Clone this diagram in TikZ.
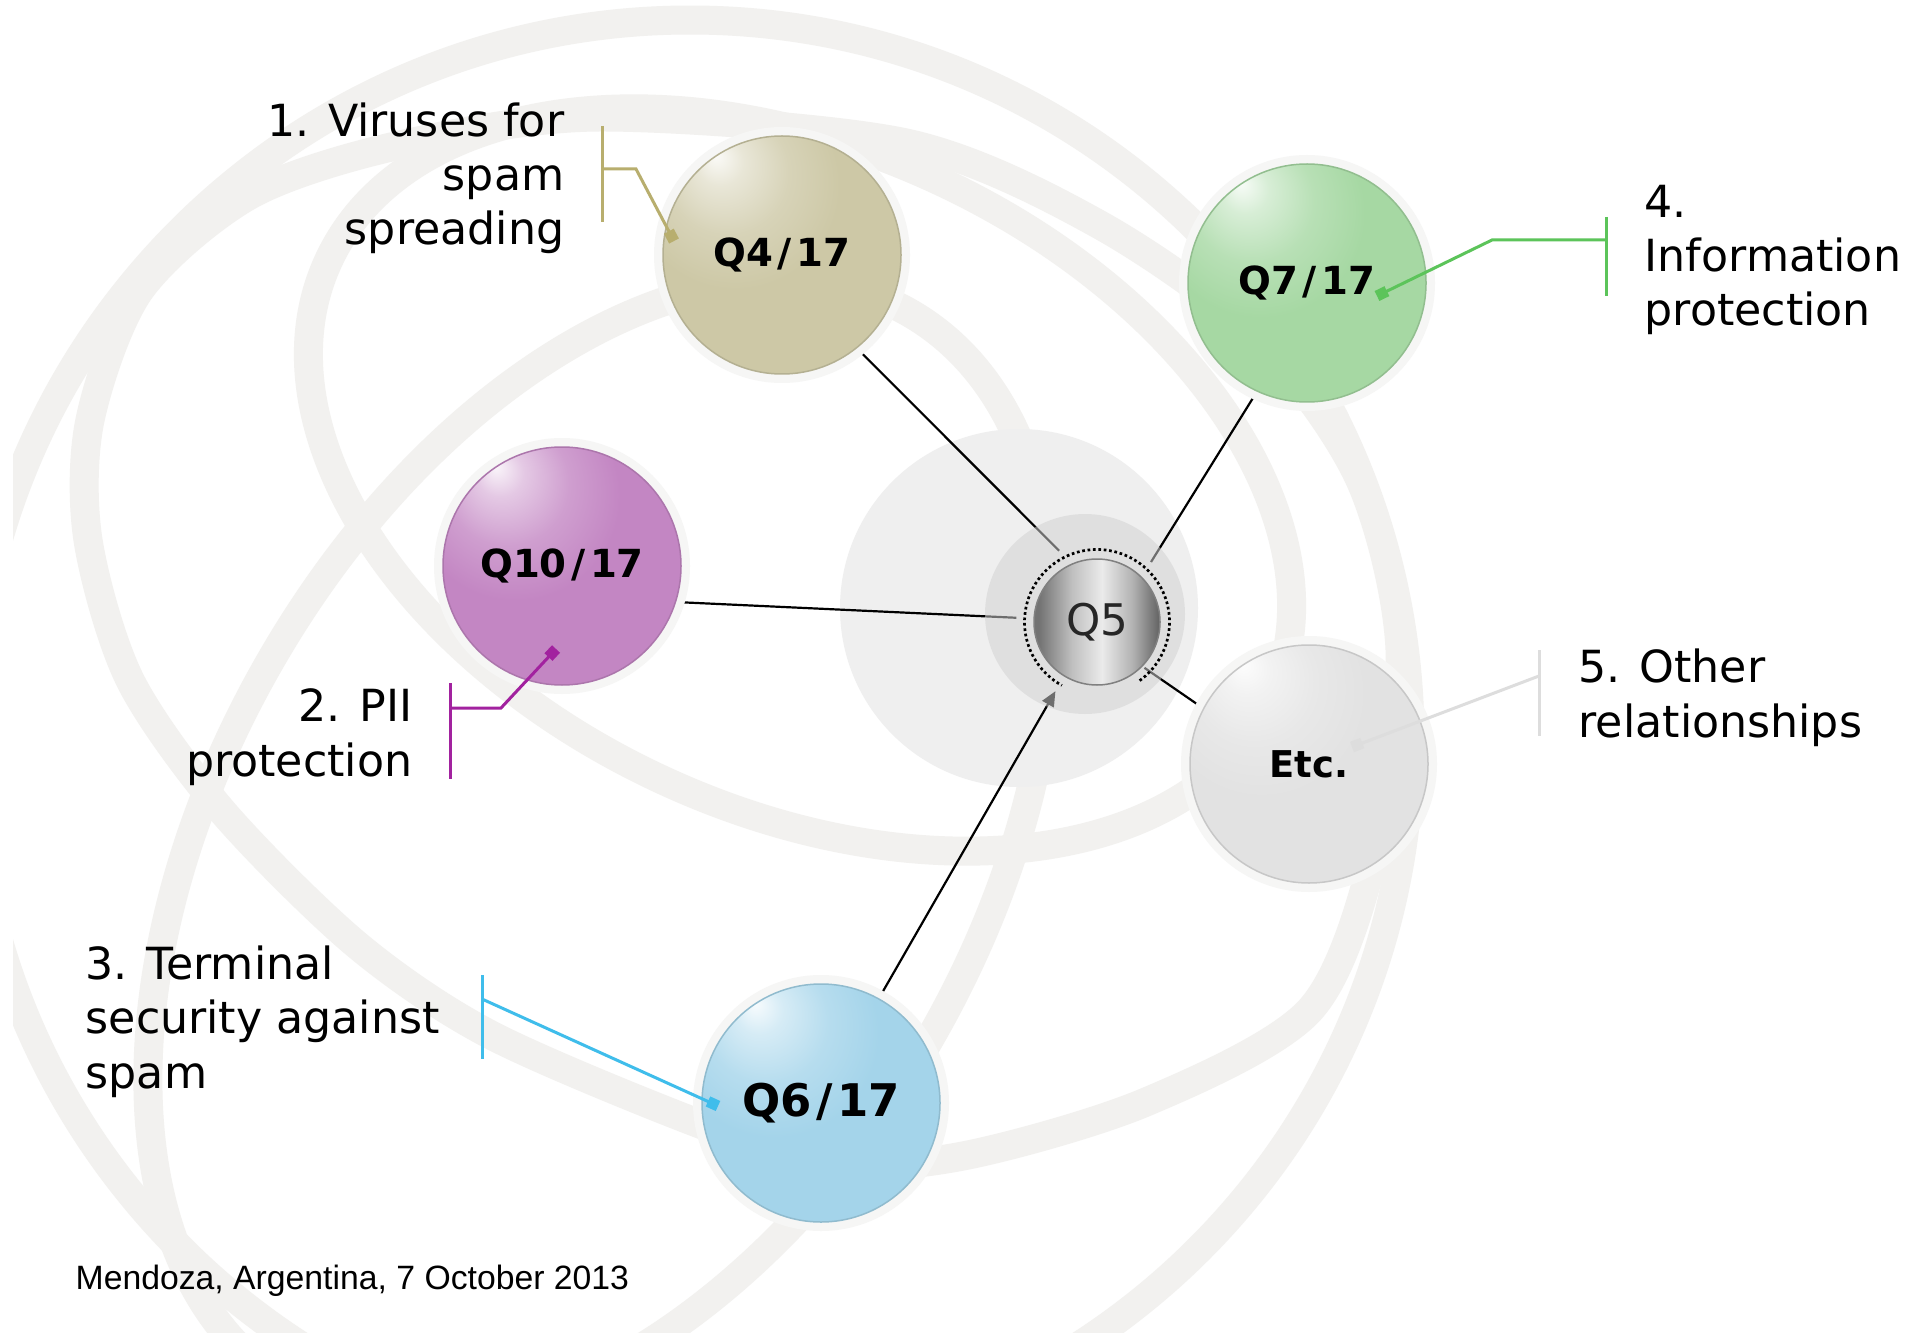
\documentclass[tikz,border=0pt]{standalone}
\usepackage{fontspec}
\setmainfont{DejaVu Sans}
\newfontfamily\footfont{Liberation Sans}
\usetikzlibrary{arrows.meta,calc}

\definecolor{ringgrey}{HTML}{F2F1EF}
\definecolor{diskgrey}{HTML}{EFEFEF}
\definecolor{innergrey}{HTML}{D2D2D2}
\definecolor{halogrey}{HTML}{F6F6F5}
\definecolor{oliveball}{HTML}{CDC8A6}
\definecolor{greenball}{HTML}{A6D8A3}
\definecolor{purpleball}{HTML}{C386C3}
\definecolor{greyball}{HTML}{E2E2E2}
\definecolor{blueball}{HTML}{A4D4EA}
\definecolor{oliveline}{HTML}{B8AE6E}
\definecolor{greenline}{HTML}{5CC45A}
\definecolor{purpleline}{HTML}{A2229F}
\definecolor{blueline}{HTML}{3FBDEB}
\definecolor{greyline}{HTML}{DDDDDD}

% highlight up left, darker rim down right
\newcommand{\ballshading}[2]{%
  \pgfdeclareradialshading{#1}{\pgfpoint{-14bp}{21bp}}{%
    color(0bp)=(white!92!#2); color(5bp)=(#2!45!white); color(13bp)=(#2!80!white);
    color(22bp)=(#2); color(60bp)=(#2); color(73bp)=(#2!72!black)}}
\ballshading{ballolive}{oliveball}
\ballshading{ballgreen}{greenball}
\ballshading{ballpurple}{purpleball}
\ballshading{ballgrey}{greyball}
\ballshading{ballblue}{blueball}
% metal look for the centre ball
\pgfdeclarehorizontalshading{ballsilver}{100bp}{%
  color(0bp)=(black!62); color(27bp)=(black!55); color(40bp)=(black!25);
  color(52bp)=(black!8); color(64bp)=(black!30); color(75bp)=(black!62);
  color(100bp)=(black!62)}

\newcommand{\qslash}{\kern1.3pt/\kern1.3pt}

\pgfdeclarelayer{bg}
\pgfdeclarelayer{lines}
\pgfdeclarelayer{disk}
\pgfsetlayers{bg,lines,disk,main}

\tikzset{
  ring/.style={draw=ringgrey, line width=2.9mm},
  sphere/.style={circle, minimum size=23.8mm, inner sep=0pt, outer sep=0.5mm,
    shade, shading=ball#1, draw=#1ball!88!black, line width=0.15mm,
    preaction={draw=halogrey, line width=1.8mm},
    font=\fontsize{11}{13}\selectfont\bfseries},
  link/.style={line width=0.22mm, black},
  bracket/.style={line width=0.3mm},
  callout/.style={line width=0.3mm, -{Square[length=1.1mm,width=1.1mm]}},
  topic/.style={font=\fontsize{12.6}{15.4}\selectfont, inner sep=0pt},
}

\begin{document}
\begin{tikzpicture}[x=0.1mm, y=-0.1mm]
\useasboundingbox (0,0) rectangle (1921,1333);

% background rings and disk
\begin{pgfonlayer}{bg}
  \fill[white] (0,0) rectangle (1921,1333);
  \begin{scope}
    \clip (13,0) rectangle (1921,1333);
    \draw[ring] (690,740) circle[radius=72mm];
    \draw[ring] plot[smooth cycle] coordinates {(600,117) (906,143) (1100,225) (1260,340)
      (1360,480) (1400,650) (1375,850) (1310,1010) (1146,1102) (968,1155) (834,1165)
      (700,1124) (491,1035) (357,945) (223,812) (130,680) (88,540) (90,420) (140,290)
      (250,195) (400,145)};
    \draw[ring, rotate around={60:(600,850)}] (600,850) ellipse[x radius=62mm, y radius=38mm];
    \draw[ring, rotate around={-25:(800,480)}] (800,480) ellipse[x radius=52mm, y radius=33mm];
  \end{scope}
  \fill[diskgrey] (1019,608) circle[radius=17.9mm];
\end{pgfonlayer}

% spheres
\node[sphere=olive] (q4) at (782,255) {Q4\qslash17};
\node[sphere=green] (q7) at (1307,283) {Q7\qslash17};
\node[sphere=purple] (q10) at (562,566) {Q10\qslash17};
\node[sphere=grey, font=\fontsize{10.5}{12}\selectfont\bfseries] (etc) at (1309,764) {Etc.};
\node[sphere=blue, font=\fontsize{12.8}{15}\selectfont\bfseries] (q6) at (821,1103) {Q6\qslash17};
\node[circle, minimum size=12.6mm, inner sep=0pt, outer sep=0.3mm,
  shade, shading=ballsilver, draw=black!50, line width=0.15mm, text=black!85,
  font=\fontsize{12.4}{14}\selectfont] (q5) at (1097,622) {Q5};
\node[circle, minimum size=16mm, inner sep=0pt] (q5ring) at (q5) {};

\begin{pgfonlayer}{disk}
  \fill[innergrey, fill opacity=0.52] (1085,614) circle[radius=10mm];
\end{pgfonlayer}
\draw[line width=0.27mm, dash pattern=on 0.27mm off 0.27mm]
  ($(q5)+(-54:7.25mm)$) arc[start angle=-54, end angle=241, radius=7.25mm];

% links to Q5
\begin{pgfonlayer}{lines}
  \draw[link] (q4.-51) -- (q5ring.118);
  \draw[link] (q7.-115) -- (q5ring.48);
  \draw[link] (q10.-17) -- (q5ring.177);
  \draw[link] (etc.152) -- (q5.-44);
  \draw[link, -{Triangle[length=1.5mm,width=1.3mm]}] (q6.61) -- (q5ring.-121);
\end{pgfonlayer}

% callouts
\coordinate (c1top) at (602,126);  \coordinate (c1bot) at (602,222);
\coordinate (c1mid) at (602,169);  \coordinate (c1bend) at (636,169);
\coordinate (c1end) at (674,241);
\draw[bracket, oliveline] (c1top) -- (c1bot);
\draw[callout, oliveline] (c1mid) -- (c1bend) -- (c1end);

\coordinate (c2top) at (450,683);  \coordinate (c2bot) at (450,779);
\coordinate (c2mid) at (450,708);  \coordinate (c2bend) at (501,708);
\coordinate (c2end) at (556,649);
\draw[bracket, purpleline] (c2top) -- (c2bot);
\draw[callout, purpleline] (c2mid) -- (c2bend) -- (c2end);

\coordinate (c3top) at (482,975);  \coordinate (c3bot) at (482,1059);
\coordinate (c3mid) at (482,999);  \coordinate (c3end) at (718,1106);
\draw[bracket, blueline] (c3top) -- (c3bot);
\draw[callout, blueline] (c3mid) -- (c3end);

\coordinate (c4top) at (1606,217); \coordinate (c4bot) at (1606,296);
\coordinate (c4mid) at (1606,240); \coordinate (c4bend) at (1492,240);
\coordinate (c4end) at (1377,296);
\draw[bracket, greenline] (c4top) -- (c4bot);
\draw[callout, greenline] (c4mid) -- (c4bend) -- (c4end);

\coordinate (c5top) at (1539,650); \coordinate (c5bot) at (1539,736);
\coordinate (c5mid) at (1539,676); \coordinate (c5end) at (1352,747);
\draw[bracket, greyline] (c5top) -- (c5bot);
\draw[callout, greyline] (c5mid) -- (c5end);

% texts (base = last line)
\node[topic, anchor=base east, align=right] (t1) at (565,245) {1. Viruses for\\spam\\spreading};
\node[topic, anchor=base east, align=right] (t2) at (413,776) {2. PII\\protection};
\node[topic, anchor=base west, align=left] (t3) at (85,1088) {3. Terminal\\security against\\spam};
\node[topic, anchor=base west, align=left] (t4) at (1644,326) {4.\\Information\\protection};
\node[topic, anchor=base west, align=left] (t5) at (1578,737) {5. Other\\relationships};
\node[font=\footfont\fontsize{9.6}{11}\selectfont, anchor=base west, inner sep=0pt] (date)
  at (75,1289) {Mendoza, Argentina, 7 October 2013};
\end{tikzpicture}
\end{document}
